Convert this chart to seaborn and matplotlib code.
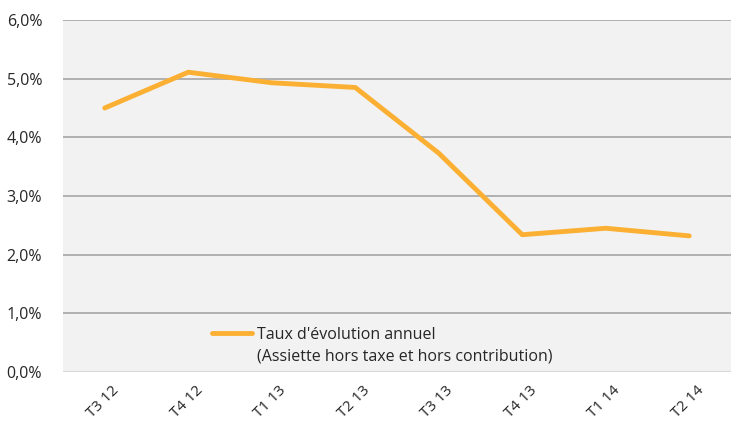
import matplotlib
matplotlib.use("Agg")
import matplotlib.pyplot as plt
import matplotlib.transforms as mtransforms
from matplotlib.ticker import FixedLocator, FuncFormatter
import pandas as pd
import numpy as np
import seaborn as sns

trimestres = ["T3 12", "T4 12", "T1 13", "T2 13", "T3 13", "T4 13", "T1 14", "T2 14"]
taux = [4.50, 5.11, 4.93, 4.85, 3.73, 2.34, 2.45, 2.32]
serie = "Taux d'évolution annuel"
serie_detail = "(Assiette hors taxe et hors contribution)"

df = pd.DataFrame({"trimestre": trimestres, "taux": taux, "serie": serie})

sns.set_style("white")
plt.rcParams["font.family"] = ["Open Sans", "DejaVu Sans"]

fig = plt.figure(figsize=(7.31, 4.21), dpi=100)
ax = fig.add_axes([63 / 731, 1 - 372 / 421, 668 / 731, 352 / 421])
ax.set_facecolor("#f2f2f2")

sns.lineplot(data=df, x="trimestre", y="taux", hue="serie", palette=["#fbb034"],
             linewidth=3.5, ax=ax, sort=False)

ax.set_ylim(0, 6)
ax.set_xlim(-0.5, len(trimestres) - 0.5)
ax.set_yticks(np.arange(0, 7, 1))
ax.yaxis.set_major_formatter(FuncFormatter(lambda v, p: f"{v:.1f}%".replace(".", ",")))
for y in range(1, 7):
    ax.axhline(y, color="#a6a6a6", lw=1.2, zorder=0)
ax.axhline(0, color="#d9d9d9", lw=1.5, zorder=0)

ax.set_xticks(range(len(trimestres)))
ax.set_xticklabels(trimestres, rotation=45, ha="right", rotation_mode="anchor")
ax.xaxis.set_minor_locator(FixedLocator(np.arange(-0.5, len(trimestres), 1)))
ax.tick_params(axis="x", which="major", length=0, pad=8, labelsize=11, colors="#262626")
ax.tick_params(axis="x", which="minor", length=6, color="#d9d9d9", width=1.2)
ax.tick_params(axis="y", length=0, pad=15, labelsize=11.5, colors="#262626")
shift = mtransforms.ScaledTranslation(7 / 100, 0, fig.dpi_scale_trans)
for lab in ax.get_xticklabels():
    lab.set_transform(lab.get_transform() + shift)
for s in ax.spines.values():
    s.set_visible(False)
ax.set_xlabel("")
ax.set_ylabel("")

leg = ax.legend(loc="center left", bbox_to_anchor=(0.223, 0.105), frameon=False,
                fontsize=11.5, handlelength=2.5, handletextpad=0.3, borderaxespad=0,
                borderpad=0)
for t in leg.get_texts():
    t.set_color("#262626")

fig.canvas.draw()
bb = leg.get_texts()[0].get_window_extent().transformed(ax.transAxes.inverted())
ax.text(bb.x0, 0.045, serie_detail, transform=ax.transAxes, ha="left", va="center",
        fontsize=11.5, color="#262626")

fig.savefig("out.png", dpi=100)
